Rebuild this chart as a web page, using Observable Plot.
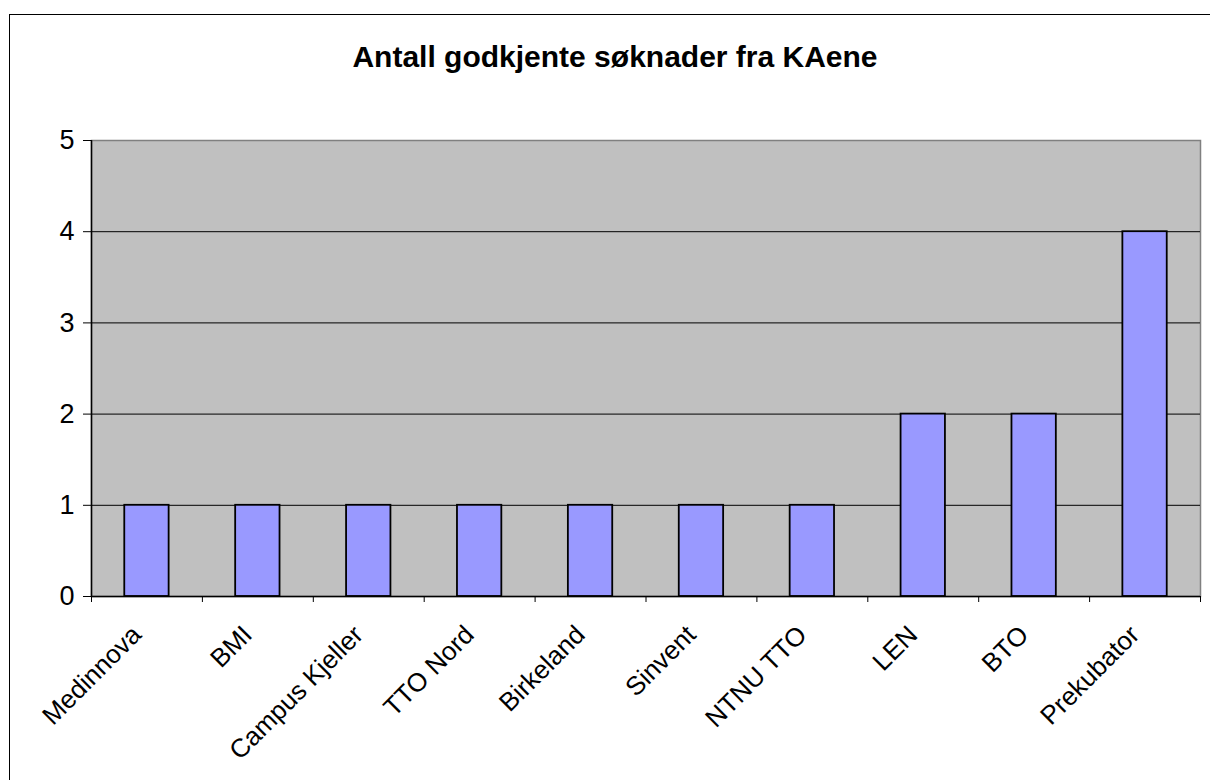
<!DOCTYPE html>
<html>
<head>
<meta charset="utf-8">
<script src="https://cdn.jsdelivr.net/npm/d3@7"></script>
<script src="https://cdn.jsdelivr.net/npm/@observablehq/plot@0.6"></script>
<style>
  html, body { margin: 0; padding: 0; background: #fff; overflow: hidden; }
  body { width: 1210px; height: 780px; position: relative; font-family: "Liberation Sans", Arial, sans-serif; }
  #border { position: absolute; left: 9px; top: 14px; width: 1400px; height: 1000px; border-left: 1px solid #000; border-top: 1px solid #000; }
  #title { position: absolute; left: 0; top: 0; width: 1230px; text-align: center; font-weight: bold; font-size: 30px; line-height: 30px; padding-top: 42px; color: #000; }
  #chart { position: absolute; left: 0; top: 0; }
</style>
</head>
<body>
<div id="border"></div>
<div id="chart"></div>
<div id="title">Antall godkjente søknader fra KAene</div>
<script>
const categories = ["Medinnova", "BMI", "Campus Kjeller", "TTO Nord", "Birkeland", "Sinvent", "NTNU TTO", "LEN", "BTO", "Prekubator"];
const values = [1, 1, 1, 1, 1, 1, 1, 2, 2, 4];
const yTicks = [0, 1, 2, 3, 4, 5];
const gridValues = [1, 2, 3, 4];

const data = categories.map((c, i) => ({category: c, index: i, value: values[i]}));
const n = categories.length;

const chart = Plot.plot({
  width: 1210,
  height: 780,
  marginTop: 140,
  marginBottom: 184,
  marginLeft: 91,
  marginRight: 10,
  style: {fontFamily: "'Liberation Sans', Arial, sans-serif", background: "transparent", color: "#000"},
  x: {type: "linear", domain: [0, n]},
  y: {domain: [0, 5]},
  marks: [
    Plot.frame({fill: "#c0c0c0", stroke: "#808080", strokeWidth: 1.5}),
    Plot.ruleY(gridValues, {stroke: "#000", strokeWidth: 1}),
    Plot.rectY(data, {x1: d => d.index + 0.3, x2: d => d.index + 0.7, y1: 0, y2: "value", fill: "#9999ff", stroke: "#000", strokeWidth: 1.8}),
    Plot.ruleX([0], {stroke: "#000", strokeWidth: 1.5}),
    Plot.ruleY([0], {stroke: "#000", strokeWidth: 1.5}),
    Plot.axisY({ticks: yTicks, tickSize: 8, tickPadding: 9, fontSize: 27, tickFormat: d3.format("d"), label: null, stroke: "#000"}),
    Plot.axisX({ticks: d3.range(n + 1), tickSize: 6, tickFormat: () => "", label: null, stroke: "#000"}),
    Plot.axisX({ticks: d3.range(n).map(i => i + 0.5), tickSize: 0, tickRotate: -45, tickPadding: 14, fontSize: 26, dx: -10, dy: 20, label: null,
      tickFormat: v => categories[Math.floor(v)]})
  ]
});
document.getElementById("chart").appendChild(chart);
</script>
</body>
</html>
